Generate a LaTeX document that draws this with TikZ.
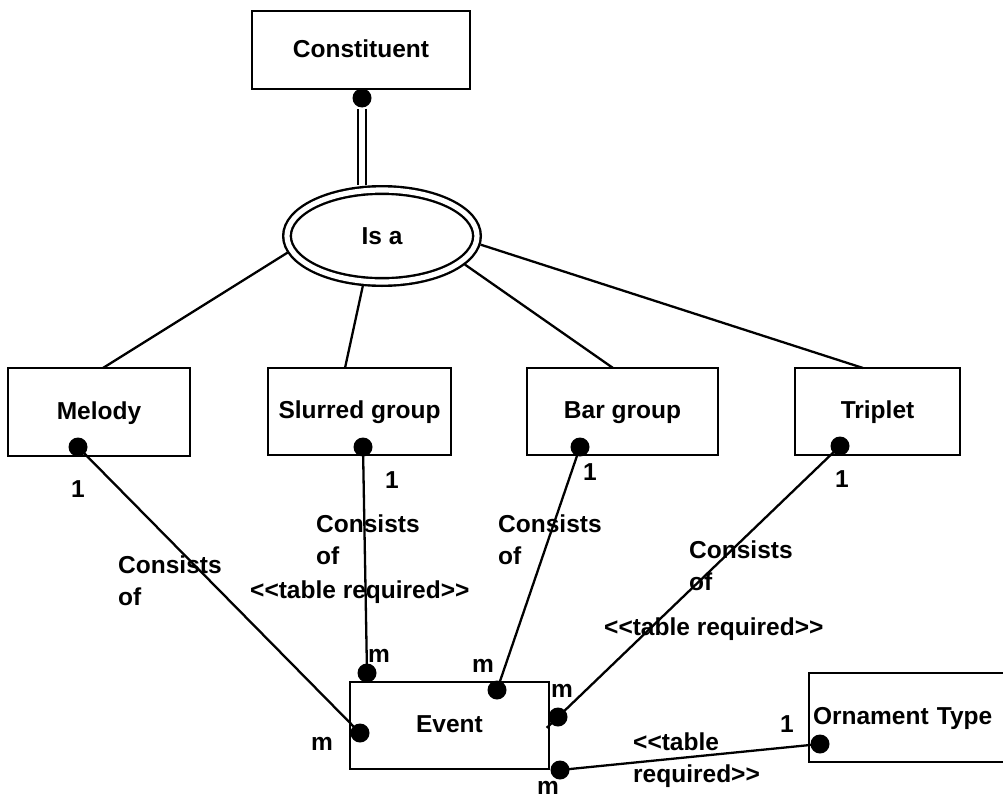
\documentclass[tikz,border=0pt]{standalone}
\usepackage{fontspec}
\newfontfamily\dfam{Liberation Sans}
\newcommand\dfont{\dfam\fontsize{24.5}{31.5}\selectfont\bfseries}
\usetikzlibrary{shapes.geometric,calc}
\begin{document}
\begin{tikzpicture}[x=1pt,y=-1pt,line width=2.4pt,
  box/.style={draw,rectangle,inner sep=0pt,outer sep=0pt,font=\dfont,text height=18pt,text depth=4pt},
  dot/.style={circle,fill,inner sep=0pt,minimum size=19pt},
  lbl/.style={font=\dfont,inner sep=0pt},
  conn/.style={line width=2.3pt}]
\clip (0,0) rectangle (1003,800);
\fill[white] (0,0) rectangle (1003,800);

% entity boxes
\node[box,minimum width=218pt,minimum height=78pt] (constituent) at (361,50) {Constituent};
\node[draw,ellipse,double,double distance=5.2pt,minimum width=190pt,minimum height=92pt,
      inner sep=0pt,outer sep=5pt,font=\dfont] (isa) at (382,236) {Is a};
\node[box,minimum width=182pt,minimum height=88pt] (melody) at (99,412) {Melody};
\node[box,minimum width=183pt,minimum height=87pt] (slurred) at (359.5,411.5) {Slurred group};
\node[box,minimum width=191pt,minimum height=87pt] (bar) at (622.5,411.5) {Bar group};
\node[box,minimum width=165pt,minimum height=87pt] (triplet) at (877.5,411.5) {Triplet};
\node[box,minimum width=199pt,minimum height=87pt] (event) at (449.5,725.5) {Event};
\node[box,minimum width=210pt,minimum height=89pt,text width=202pt,align=left,inner xsep=4pt] (orn) at (914,717.5) {Ornament Type};

% dots
\node[dot] (cdot) at (362,98) {};
\node[dot] (mdot) at (78,447) {};
\node[dot] (sdot) at (363,447) {};
\node[dot] (bdot) at (580,447) {};
\node[dot] (tdot) at (840,446) {};
\node[dot] (e1) at (367,673) {};
\node[dot] (e2) at (497,690) {};
\node[dot] (e3) at (558,717) {};
\node[dot] (e4) at (360,733) {};
\node[dot] (e5) at (560,770) {};
\node[dot] (odot) at (820,744) {};

% is-a connectors
\draw[double,double distance=5.2pt] (cdot.south) -- (cdot.south |- isa.north);
\draw[conn] (isa.190.9) -- ([xshift=95pt]melody.north west);
\draw[conn] (isa.249) -- ([xshift=77pt]slurred.north west);
\draw[conn] (isa.341) -- ([xshift=86pt]bar.north west);
\draw[conn] (isa.355) -- ([xshift=68pt]triplet.north west);

% relationship connectors
\draw[conn] (mdot.center) -- (e4.center);
\draw[conn] (sdot.center) -- (e1.center);
\draw[conn] (bdot.center) -- (e2.center);
\draw[conn] (tdot.center) -- ($(tdot.center)!1.04!(e3.center)$);
\draw[conn] (e5.center) -- (odot.center);

% cardinalities
\node[lbl,anchor=base] (one1) at (78,497) {1};
\node[lbl,anchor=base] (one2) at (392,488) {1};
\node[lbl,anchor=base] (one3) at (590,480) {1};
\node[lbl,anchor=base] (one4) at (842,487) {1};
\node[lbl,anchor=base] (one5) at (787,732) {1};
\node[lbl,anchor=base] (m1) at (379,662) {m};
\node[lbl,anchor=base] (m2) at (483,672) {m};
\node[lbl,anchor=base] (m3) at (562,697) {m};
\node[lbl,anchor=base] (m4) at (322,750) {m};
\node[lbl,anchor=base] (m5) at (548,794) {m};

% relationship labels
\node[lbl,anchor=north west,align=left] (c1) at (117,555) {Consists\\of};
\node[lbl,anchor=north west,align=left] (c2) at (315,514) {Consists\\of};
\node[lbl,anchor=base west] (t2) at (249,598) {<<table required>>};
\node[lbl,anchor=north west,align=left] (c3) at (497,514) {Consists\\of};
\node[lbl,anchor=north west,align=left] (c4) at (688,540) {Consists\\of};
\node[lbl,anchor=base west] (t4) at (603,635) {<<table required>>};
\node[lbl,anchor=north west,align=left] (t5) at (632,732) {<<table\\required>>};
\end{tikzpicture}
\end{document}
